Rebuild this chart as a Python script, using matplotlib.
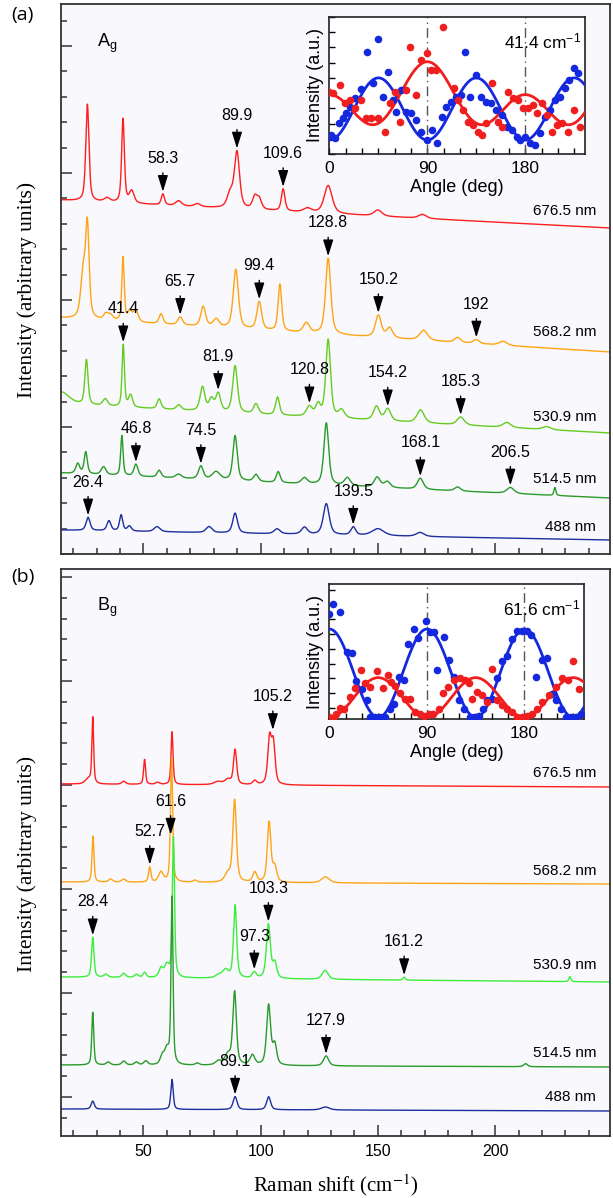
import numpy as np
import matplotlib
matplotlib.use("Agg")
import matplotlib.pyplot as plt
from matplotlib.ticker import MultipleLocator
from matplotlib.transforms import blended_transform_factory

# ======================
# Data (peak positions / heights / half widths)
# ======================
XMIN, XMAX = 14.85, 249.0

# ---- panel (a) : Ag ----
a_names = ["676.5 nm", "568.2 nm", "530.9 nm", "514.5 nm", "488 nm"]
a_label_y = [343, 222, 137, 75, 27]
a_base = [(354, 326), (236, 202), (150, 121), (81, 56), (24, 14)]

a_red_c = [26.1, 34.5, 41.3, 45.0, 58.3, 65.0, 73.0, 87.0, 89.9, 97.5, 99.4, 109.6, 120.0, 128.8, 150.0, 169.0]
a_red_h = [97, 4, 84, 12, 11, 5, 3, 14, 56, 12, 10, 22, 4, 28, 6, 4]
a_red_w = [0.8, 1.5, 0.7, 1.2, 0.8, 1.5, 1.5, 1.5, 1.3, 1.2, 1.2, 0.9, 2.0, 2.0, 2.0, 2.0]

a_org_c = [24.3, 26.1, 34.0, 36.0, 41.3, 44.2, 46.7, 57.5, 65.7, 75.5, 81.0, 89.4, 99.4, 108.2, 119.5, 128.8, 150.2, 155.0, 169.5, 184.0, 192.0, 203.4]
a_org_h = [45, 90, 6, 5, 64, 10, 12, 10, 8, 20, 8, 59, 28, 47, 10, 76, 22, 10, 10, 5, 4, 4]
a_org_w = [1.2, 0.9, 1.2, 1.2, 0.6, 1.0, 1.2, 1.0, 1.2, 1.2, 1.5, 1.3, 1.2, 0.9, 1.5, 1.3, 1.5, 1.5, 2.0, 1.5, 1.5, 2.0]

a_lgr_c = [15.0, 25.7, 33.7, 41.4, 44.5, 56.7, 65.1, 75.2, 79.0, 81.9, 89.1, 98.0, 107.2, 120.8, 124.5, 128.8, 134.5, 149.4, 154.2, 168.2, 185.3, 205.0, 222.0]
a_lgr_h = [12, 45, 7, 62, 12, 10, 5, 24, 12, 18, 47, 10, 18, 10, 12, 78, 8, 14, 12, 13, 8, 5, 3]
a_lgr_w = [4.0, 0.8, 1.2, 0.6, 1.0, 1.0, 1.2, 1.2, 1.2, 1.2, 1.2, 1.2, 1.0, 1.5, 1.2, 1.2, 1.5, 1.5, 1.5, 1.8, 1.8, 2.0, 2.0]

a_dgr_c = [22.0, 25.4, 33.0, 40.8, 46.8, 56.7, 65.0, 74.5, 81.0, 89.1, 98.0, 107.5, 118.7, 128.0, 137.0, 149.7, 154.0, 168.1, 184.0, 206.5, 225.5]
a_dgr_h = [10, 22, 8, 40, 12, 7, 4, 13, 8, 45, 7, 11, 6, 62, 8, 10, 6, 11, 4, 6, 8]
a_dgr_w = [1.0, 0.8, 1.2, 0.6, 1.0, 1.0, 1.5, 1.2, 2.0, 1.1, 1.2, 1.0, 1.5, 1.2, 1.5, 1.5, 1.5, 1.5, 1.5, 1.8, 0.5]

a_blu_c = [26.4, 35.3, 40.5, 44.0, 55.8, 78.0, 89.1, 107.0, 118.7, 128.0, 139.5, 150.0, 168.0]
a_blu_h = [13, 10, 16, 5, 5, 6, 20, 5, 7, 31, 8, 7, 4]
a_blu_w = [1.0, 1.0, 0.8, 1.0, 1.5, 1.5, 1.2, 1.5, 1.5, 1.5, 1.2, 3.0, 2.0]

# arrows: (position, text, spectrum index)
a_ann = [(58.3, "58.3", 0), (89.9, "89.9", 0), (109.6, "109.6", 0),
         (65.7, "65.7", 1), (99.4, "99.4", 1), (128.8, "128.8", 1), (150.2, "150.2", 1), (192.0, "192", 1),
         (41.4, "41.4", 2), (81.9, "81.9", 2), (120.8, "120.8", 2), (154.2, "154.2", 2), (185.3, "185.3", 2),
         (46.8, "46.8", 3), (74.5, "74.5", 3), (168.1, "168.1", 3), (206.5, "206.5", 3),
         (26.4, "26.4", 4), (139.5, "139.5", 4)]

# ---- panel (b) : Bg ----
b_names = ["676.5 nm", "568.2 nm", "530.9 nm", "514.5 nm", "488 nm"]
b_label_y = [324, 226, 132, 44, 0]
b_base = [(313, 310), (215, 213), (120, 115), (32, 30), (-12, -14)]

b_red_c = [26.5, 28.4, 41.6, 50.5, 56.0, 62.2, 81.8, 86.0, 89.1, 97.5, 103.8, 105.4]
b_red_h = [5, 66, 3, 25, 2, 53, 3, 5, 35, 4, 45, 40]
b_red_w = [1.5, 0.45, 1.0, 0.5, 1.0, 0.5, 2.0, 1.5, 0.8, 1.0, 0.9, 0.9]

b_org_c = [28.5, 36.0, 41.6, 52.7, 57.5, 62.0, 72.0, 86.0, 88.9, 97.5, 103.6, 106.0, 127.6]
b_org_h = [46, 3, 3, 15, 10, 124, 2, 8, 82, 10, 60, 15, 6]
b_org_w = [0.5, 1.0, 1.0, 0.6, 1.2, 0.55, 1.0, 1.5, 0.9, 1.0, 0.9, 1.0, 2.0]

b_lgr_c = [28.4, 34.0, 41.6, 47.0, 50.5, 57.5, 60.0, 62.8, 82.0, 85.0, 89.1, 97.3, 103.3, 106.0, 127.5, 161.2, 231.9]
b_lgr_h = [40, 3, 4, 3, 5, 9, 12, 140, 3, 8, 73, 6, 54, 15, 9, 3, 5]
b_lgr_w = [0.6, 1.0, 1.0, 1.0, 0.8, 1.0, 1.2, 0.55, 1.5, 1.5, 0.8, 1.0, 1.0, 1.0, 1.5, 0.6, 0.5]

b_dgr_c = [28.4, 35.0, 41.6, 47.0, 51.0, 58.0, 60.0, 62.2, 73.0, 82.0, 86.0, 88.9, 96.5, 103.4, 106.0, 127.9, 213.0]
b_dgr_h = [53, 3, 4, 3, 4, 8, 15, 167, 2, 4, 10, 73, 10, 60, 20, 10, 3]
b_dgr_w = [0.5, 1.0, 1.0, 1.0, 1.0, 1.0, 1.2, 0.5, 1.0, 1.5, 1.5, 0.9, 1.2, 1.0, 1.0, 1.3, 1.0]

b_blu_c = [28.4, 62.2, 89.1, 103.4, 127.6]
b_blu_h = [8, 30, 13, 13, 3]
b_blu_w = [0.8, 0.6, 1.0, 1.0, 2.0]

b_ann = [(105.2, "105.2", 0), (52.7, "52.7", 1), (61.6, "61.6", 2), (28.4, "28.4", 2),
         (103.3, "103.3", 2), (97.3, "97.3", 2), (161.2, "161.2", 2), (127.9, "127.9", 3), (89.1, "89.1", 4)]

# ---- insets: angle (deg) / intensity ----
ia_blue_ang = [1.5, 4.6, 8.6, 12.3, 15.4, 18.4, 23.0, 29.2, 34.7, 39.9, 44.5, 49.1, 53.7, 58.4, 61.4, 66.0, 70.6, 75.2,
               79.9, 84.5, 90.0, 94.6, 99.2, 103.8, 107.5, 112.1, 116.7, 120.7, 125.0, 129.0, 134.5, 139.7, 143.7, 148.3,
               153.6, 158.2, 162.8, 167.4, 172.0, 175.1, 179.7, 184.3, 188.9, 193.5, 198.1, 202.7, 207.3, 211.9, 216.5,
               220.5, 224.8, 228.8]
ia_blue_val = [1.25, 1.07, 2.01, 2.34, 2.67, 3.11, 3.65, 4.25, 6.67, 4.68, 7.53, 3.76, 5.36, 3.54, 2.78, 4.20, 2.78, 2.67,
               2.23, 1.47, 0.92, 1.58, 0.74, 2.45, 3.11, 3.44, 3.76, 3.87, 6.72, 3.76, 5.19, 3.76, 3.44, 3.33,
               2.89, 2.56, 1.79, 1.58, 1.14, 0.92, 1.14, 0.70, 0.59, 1.36, 2.45, 2.89, 3.54, 3.76, 4.31,
               4.86, 5.62, 5.30]
ia_red_ang = [0.0, 3.1, 9.2, 13.8, 18.4, 23.0, 29.2, 33.8, 38.4, 44.5, 50.7, 55.3, 59.9, 64.5, 70.6, 74.3, 79.9, 84.5,
              89.7, 93.7, 98.3, 104.4, 114.3, 118.2, 122.9, 127.5, 132.1, 136.7, 140.7, 144.3, 149.9, 155.1, 159.1,
              164.3, 168.9, 173.5, 178.1, 182.7, 187.3, 191.0, 195.6, 200.2, 204.9, 208.8, 213.5, 219.6, 225.1, 230.3]
ia_red_val = [4.09, 3.98, 4.53, 3.33, 3.54, 3.00, 3.54, 2.34, 2.34, 2.34, 1.47, 3.33, 4.09, 2.12, 4.20, 7.05, 3.87, 6.17,
              6.65, 5.51, 5.51, 8.32, 4.31, 3.54, 2.89, 2.12, 1.90, 1.47, 1.25, 2.01, 4.64, 2.12, 1.79,
              4.09, 3.65, 3.54, 3.00, 3.00, 3.22, 2.67, 3.33, 2.56, 1.47, 1.90, 2.01, 1.47, 2.89, 1.79]
# fit: c0 + c1*cos(4t) + c2*cos(2t)
ia_blue_fit = (2.96, -2.04, 0.0)
ia_red_fit = (3.50, 1.48, -1.08)

ib_blue_ang = [0.0, 3.1, 9.9, 16.0, 20.7, 24.7, 29.9, 34.6, 37.7, 42.3, 46.9, 51.5, 55.6, 59.3, 63.9, 68.5, 72.2, 77.8,
               81.5, 89.5, 93.2, 96.3, 99.4, 105.6, 110.2, 114.8, 119.4, 124.1, 129.6, 133.3, 138.0, 141.9, 145.7,
               150.3, 154.9, 159.6, 164.2, 168.8, 173.5, 178.1, 182.7, 185.8, 190.4, 196.6, 201.2, 205.9, 209.0,
               213.6, 218.2, 222.8, 227.5, 232.1]
ib_blue_val = [6.38, 7.07, 6.54, 3.80, 3.73, 1.84, 1.31, 0.51, -0.65, -0.65, -0.65, -0.65, -0.07, 0.28, 2.12, 1.89, 4.31,
               5.35, 4.77, 5.92, 5.12, 5.12, 2.58, 4.82, 3.27, 2.12, 0.51, -0.07, -0.65, -0.65, -0.58, -0.07, 0.51,
               0.62, 2.00, 3.16, 3.50, 4.65, 5.23, 5.23, 5.23, 4.95, 2.12, 3.27, 3.39, 0.97, 0.51,
               -0.07, -0.65, -0.65, -0.65, -0.41]
ib_red_ang = [0.0, 3.1, 6.2, 9.9, 13.6, 18.5, 23.8, 29.3, 33.0, 37.7, 43.8, 49.4, 53.7, 56.8, 60.8, 65.4, 70.1, 74.7,
              79.3, 83.3, 87.7, 91.7, 95.7, 100.9, 104.9, 109.6, 114.8, 120.4, 124.7, 128.7, 131.8, 136.4, 141.0,
              145.7, 150.3, 154.9, 159.6, 164.2, 168.8, 173.5, 178.1, 182.7, 187.3, 192.0, 196.6, 202.8, 209.0,
              215.1, 219.8, 224.4, 230.6]
ib_red_val = [-0.65, -0.71, -0.41, -0.02, -0.07, 0.74, 1.36, 2.58, 1.66, 1.43, 2.51, 1.36, 2.24, 1.77, 1.50, 1.04, 0.62, 0.62,
              -0.30, -0.41, -0.53, -0.41, -0.41, -0.07, 1.04, 1.43, 1.89, 2.05, 1.89, 1.66, 0.62, 1.08, 0.85,
              0.39, 2.65, 0.51, 0.16, -0.07, -0.30, -0.65, -0.65, -0.53, -0.41, -0.07, 0.39, 0.85, 1.43,
              2.00, 1.89, 3.16, 1.31]
ib_blue_fit = (2.35, 3.0, 0.0)
ib_red_fit = (0.70, -1.35, 0.0)

# ======================
# Style
# ======================
plt.rcParams["font.family"] = ["Liberation Sans", "DejaVu Sans"]
plt.rcParams["mathtext.fontset"] = "custom"
plt.rcParams["mathtext.rm"] = "Liberation Sans"
plt.rcParams["mathtext.it"] = "Liberation Sans:italic"
plt.rcParams["mathtext.bf"] = "Liberation Sans:bold"

BG = "#F8F8FD"
a_colors = ["#FF1E1E", "#FFA515", "#66CC22", "#2A9A2A", "#1E2E9E"]
b_colors = ["#FF1E1E", "#FFA515", "#3CEE3C", "#2A9A2A", "#1E2E9E"]
RED_PT, BLUE_PT = "#F01E1E", "#1428E0"
SERIF = ["Liberation Serif", "DejaVu Serif"]

W, H = 613, 1198
fig = plt.figure(figsize=(W / 100, H / 100), dpi=100)


def px_box(left, top, right, bottom):
    return [left / W, 1 - bottom / H, (right - left) / W, (bottom - top) / H]


x = np.linspace(XMIN, XMAX, 3000)


def spectrum(base, cs, hs, ws):
    y = base[0] + (base[1] - base[0]) * (x - XMIN) / (XMAX - XMIN)
    for c, h, w in zip(cs, hs, ws):
        lor = w ** 2 / ((x - c) ** 2 + w ** 2)
        gau = np.exp(-np.log(2) * ((x - c) / w) ** 2)
        y = y + h * (0.55 * lor + 0.45 * gau)
    return y


def style_main(ax, ylim, major, labels):
    ax.set_facecolor(BG)
    ax.xaxis.set_major_locator(MultipleLocator(50))
    ax.xaxis.set_minor_locator(MultipleLocator(10))
    ax.yaxis.set_major_locator(MultipleLocator(major))
    ax.yaxis.set_minor_locator(MultipleLocator(major / 5))
    ax.set_xlim(XMIN, XMAX)
    ax.set_ylim(*ylim)
    ax.tick_params(axis="y", which="both", labelleft=False)
    if not labels:
        ax.tick_params(axis="x", which="both", labelbottom=False)
    ax.tick_params(which="both", direction="in", top=False, right=False, width=1.1, color="#333333",
                   labelsize=11.5, pad=6)
    ax.tick_params(which="major", length=8)
    ax.tick_params(which="minor", length=4.5)
    for s in ax.spines.values():
        s.set_linewidth(1.3)
        s.set_color("#333333")


def draw_panel(ax, spectra, colors, names, label_y, ann):
    curves = []
    for (base, cs, hs, ws), col in zip(spectra, colors):
        y = spectrum(base, cs, hs, ws)
        curves.append(y)
        ax.plot(x, y, color=col, lw=1.0)
    tr = blended_transform_factory(ax.transAxes, ax.transData)
    for name, ly in zip(names, label_y):
        ax.text(0.975, ly, name, transform=tr, ha="right", va="center", fontsize=11)
    for pos, txt, k in ann:
        win = np.abs(x - pos) < 1.5
        tip = curves[k][win].max() + 2
        ax.annotate(txt, xy=(pos, tip), xytext=(0, 24), textcoords="offset points",
                    ha="center", va="center", fontsize=11.5,
                    arrowprops=dict(arrowstyle="-|>,head_length=0.9,head_width=0.28", color="black",
                                    lw=1.0, shrinkA=3, shrinkB=0, mutation_scale=11))


def draw_inset(ax, blue_ang, blue_val, red_ang, red_val, blue_fit, red_fit, ylim, tag):
    ax.set_facecolor("white")
    t = np.linspace(0, 235, 400)
    tr = np.deg2rad(t)
    for fit, col in ((blue_fit, BLUE_PT), (red_fit, RED_PT)):
        ax.plot(t, fit[0] + fit[1] * np.cos(4 * tr) + fit[2] * np.cos(2 * tr), color=col, lw=2.0, zorder=3)
    ax.scatter(blue_ang, blue_val, s=30, color=BLUE_PT, zorder=4, linewidths=0)
    ax.scatter(red_ang, red_val, s=30, color=RED_PT, zorder=4, linewidths=0)
    for v in (90, 180):
        ax.axvline(v, color="#555555", lw=1.0, ls=(0, (7, 3, 1, 3)), zorder=2)
    ax.set_xticks([0, 90, 180])
    ax.xaxis.set_minor_locator(MultipleLocator(15))
    ax.yaxis.set_major_locator(MultipleLocator(1))
    ax.set_xlim(0, 235)
    ax.set_ylim(*ylim)
    ax.tick_params(axis="y", labelleft=False)
    ax.tick_params(which="both", direction="in", length=4, width=1.0, labelsize=12.5, pad=5)
    ax.set_xlabel("Angle (deg)", fontsize=13, labelpad=2)
    ax.set_ylabel("Intensity (a.u.)", fontsize=13, labelpad=4)
    for s in ax.spines.values():
        s.set_linewidth(1.2)
        s.set_color("#222222")
    ax.text(0.985, 0.82, tag + r" cm$^{-1}$", transform=ax.transAxes, ha="right", va="center", fontsize=12.5)


# ======================
# Panel (a)
# ======================
ax_a = fig.add_axes(px_box(61, 4, 610, 554))
style_main(ax_a, (0, 550), 127, labels=False)
spec_a = [(a_base[0], a_red_c, a_red_h, a_red_w), (a_base[1], a_org_c, a_org_h, a_org_w),
          (a_base[2], a_lgr_c, a_lgr_h, a_lgr_w), (a_base[3], a_dgr_c, a_dgr_h, a_dgr_w),
          (a_base[4], a_blu_c, a_blu_h, a_blu_w)]
draw_panel(ax_a, spec_a, a_colors, a_names, a_label_y, a_ann)

# ======================
# Panel (b)
# ======================
ax_b = fig.add_axes(px_box(61, 569, 610, 1136))
style_main(ax_b, (-39, 528), 104, labels=True)
spec_b = [(b_base[0], b_red_c, b_red_h, b_red_w), (b_base[1], b_org_c, b_org_h, b_org_w),
          (b_base[2], b_lgr_c, b_lgr_h, b_lgr_w), (b_base[3], b_dgr_c, b_dgr_h, b_dgr_w),
          (b_base[4], b_blu_c, b_blu_h, b_blu_w)]
draw_panel(ax_b, spec_b, b_colors, b_names, b_label_y, b_ann)

# panel tags and axis labels
for txt, py in (("(a)", 15), ("(b)", 577)):
    fig.text(11 / W, 1 - py / H, txt, fontsize=14, ha="left", va="center", family=["Open Sans", "DejaVu Sans"])
for txt, py in ((r"A$_\mathrm{g}$", 43), (r"B$_\mathrm{g}$", 607)):
    fig.text(97 / W, 1 - py / H, txt, fontsize=13, ha="left", va="center")

for ax in (ax_a, ax_b):
    ax.set_ylabel("Intensity (arbitrary units)", family=SERIF, fontsize=15.5)
    ax.yaxis.set_label_coords(-0.043, 0.48)
ax_b.set_xlabel(r"Raman shift (cm$^{\mathrm{-1}}$)", family=SERIF,
                fontsize=15, labelpad=9, math_fontfamily="stix")

# ======================
# Insets
# ======================
in_a = fig.add_axes(px_box(329.5, 17, 585, 154))
draw_inset(in_a, ia_blue_ang, ia_blue_val, ia_red_ang, ia_red_val, ia_blue_fit, ia_red_fit, (0, 9.0), "41.4")
in_b = fig.add_axes(px_box(329.5, 584, 584, 719))
draw_inset(in_b, ib_blue_ang, ib_blue_val, ib_red_ang, ib_red_val, ib_blue_fit, ib_red_fit, (-0.76, 8.41), "61.6")

fig.savefig("out.png", dpi=100)
